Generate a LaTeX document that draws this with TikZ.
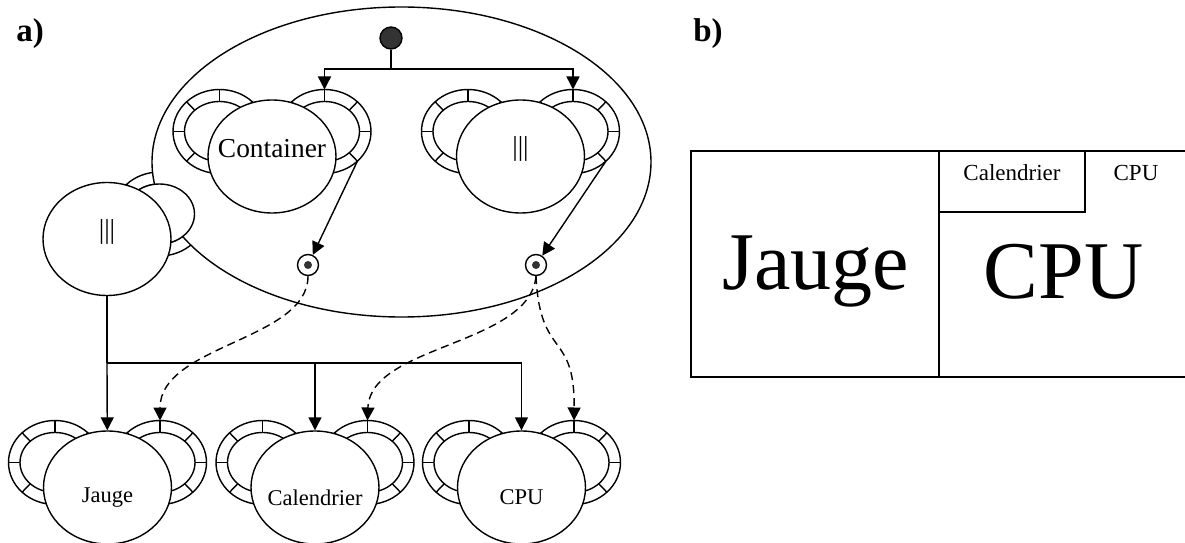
\documentclass[tikz,border=0pt]{standalone}
\usepackage{fontspec}
\setmainfont{Liberation Serif}
\usepackage{tikz}
\usetikzlibrary{arrows.meta,shapes.geometric,calc}
\definecolor{dotgray}{RGB}{51,51,51}
\newcommand{\unitfont}{\fontsize{13.7}{16}\selectfont}
\newcommand{\leaffont}{\fontsize{11.25}{13}\selectfont}
\newcommand{\earat}[3]{% #1 unit centre, #2 side (l/r), #3 sign
  \begin{scope}[shift={($(#1)+({#3*52.5},25)$)}]
    \draw[wire,fill=white] (0,0) ellipse [x radius=46.5, y radius=42];
    \draw[wire,fill=white] (0,0) ellipse [x radius=35, y radius=30];
    \foreach \a in {0,45,...,315}
      \draw[wire] (\a:35 and 30) -- (\a:46.5 and 42);
    \coordinate (#1-#2top) at (0,42);
    \coordinate (#1-#2out) at ({90-#3*135}:46.5 and 42);
  \end{scope}}

\begin{document}
\begin{tikzpicture}[x=0.5pt,y=0.5pt,
  wire/.style={line width=0.7pt},
  tip/.style={-{Triangle[length=6.5pt,width=6.5pt]}},
  link/.style={wire,tip,dash pattern=on 4pt off 2.5pt},
  unit/.style={ellipse,draw,wire,fill=white,inner sep=0pt,minimum width=64pt,minimum height=56.5pt},
  shell/.style={ellipse,draw,wire,fill=white,inner sep=0pt,minimum width=249.5pt,minimum height=155pt},
  slot/.style={circle,draw,wire,fill=white,inner sep=0pt,minimum size=10.5pt,
    path picture={\fill[dotgray] (path picture bounding box.center) circle (2pt);}},
  tag/.style={font=\fontsize{16.5}{20}\selectfont\bfseries}]
  \useasboundingbox (0,0) rectangle (1185,542);
  \clip (0,0) rectangle (1185,542);
  \node[tag] (tagA) at (30,508) {a)};
  \node[tag] (tagB) at (708,508) {b)};
  % left unit, its ear under the container
  \coordinate (mux) at (107,303);
  \earat{mux}{r}{1}
  \node[shell] (shell) at (401.5,380) {};
  \draw[wire,fill=white] ($(mux)+(52.5,25)$) ellipse [x radius=35, y radius=30];
  \node[unit,label={[font=\unitfont,yshift=3.5pt]center:|||}] (mux) at (mux) {};
  % units inside the container
  \coordinate (cont) at (272,385.5);
  \earat{cont}{l}{-1}
  \earat{cont}{r}{1}
  \node[unit,label={[font=\unitfont,yshift=4pt]center:Container}] (cont) at (cont) {};
  \coordinate (par) at (520.5,385.5);
  \earat{par}{l}{-1}
  \earat{par}{r}{1}
  \node[unit,label={[font=\unitfont,yshift=4pt]center:|||}] (par) at (par) {};
  \node[circle,draw,wire,fill=dotgray,inner sep=0pt,minimum size=11pt] (init) at (391,504) {};
  \node[slot] (slotA) at (308,277) {};
  \node[slot] (slotB) at (536,277) {};
  % leaf units
  \foreach \n/\x/\t in {jauge/107.5/Jauge,cal/315/Calendrier,cpu/521.5/CPU}{
    \coordinate (\n) at (\x,54.5);
    \earat{\n}{l}{-1}
    \earat{\n}{r}{1}
    \node[unit,label={[font=\leaffont,yshift=-5pt]center:\t}] (\n) at (\n) {};
  }
  % connectors
  \coordinate (fork) at (391,473);
  \draw[wire] (init) -- (fork);
  \draw[wire,tip] (fork) -| (cont-rtop);
  \draw[wire,tip] (fork) -| (par-rtop);
  \draw[wire,tip] (cont-rout) -- (slotA);
  \draw[wire,tip] (par-rout) -- (slotB);
  \coordinate (bus) at (107,179);
  \draw[wire] (mux) -- (bus);
  \draw[wire,tip] (bus) -- (jauge);
  \draw[wire,tip] (bus) -| (cal.north);
  \draw[wire,tip] (bus) -| (cpu.north);
  \draw[link] (slotA.south) .. controls (308,202) and (160,197) .. (jauge-rtop);
  \draw[link] (slotB.south) .. controls (530,197) and (370,197) .. (cal-rtop);
  \draw[link] (slotB.south) .. controls (540,182) and (575,212) .. (cpu-rtop);
  % screen layout
  \draw[wire] (691,165) rectangle (1195,391);
  \draw[wire] (939,165) -- (939,391);
  \draw[wire] (939,330) -| (1085,391);
  \node[font=\fontsize{41}{48}\selectfont] (scrJauge) at (816,270) {Jauge};
  \node[font=\fontsize{41}{48}\selectfont] (scrCPU) at (1063.5,270) {CPU};
  \node[font=\fontsize{11.5}{14}\selectfont] (scrCal) at (1012,369) {Calendrier};
  \node[font=\fontsize{11.5}{14}\selectfont] (scrCPUtop) at (1136,369) {CPU};
\end{tikzpicture}
\end{document}
